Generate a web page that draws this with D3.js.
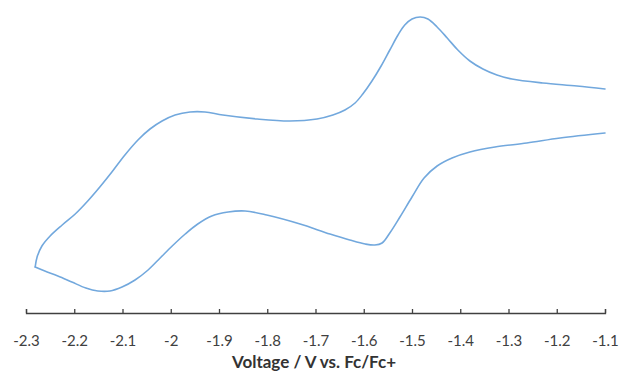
<!DOCTYPE html>
<html>
<head>
<meta charset="utf-8">
<script src="https://cdn.jsdelivr.net/npm/d3@7"></script>
<style>
  html, body { margin: 0; padding: 0; background: #fff; }
  svg { display: block; }
</style>
</head>
<body>
<svg id="chart" width="624" height="374"></svg>
<script>
// Cyclic voltammogram: potential (V vs. Fc/Fc+) and current (arbitrary units)
// Upper branch, read from -2.3 V up to -1.1 V
const upperPotential = [
  -2.281, -2.277, -2.267, -2.250, -2.225, -2.198, -2.172, -2.147, -2.122, -2.095,
  -2.068, -2.043, -2.018, -1.991, -1.960, -1.929, -1.892, -1.821, -1.753, -1.697,
  -1.664, -1.639, -1.618, -1.602, -1.583, -1.564, -1.546, -1.529, -1.515, -1.500,
  -1.483, -1.467, -1.448, -1.427, -1.405, -1.380, -1.353, -1.324, -1.293, -1.229,
  -1.158, -1.100
];
const upperCurrent = [
  4.6, 5.6, 6.7, 7.7, 8.8, 9.9, 11.2, 12.6, 14.1, 15.8,
  17.3, 18.4, 19.2, 19.8, 20.1, 20.1, 19.8, 19.4, 19.2, 19.4,
  19.8, 20.3, 21.0, 21.9, 23.2, 24.7, 26.3, 27.8, 28.8, 29.4,
  29.6, 29.4, 28.6, 27.5, 26.3, 25.2, 24.4, 23.8, 23.4, 23.0,
  22.7, 22.4
];
// Lower branch, read from -2.3 V up to -1.1 V
const lowerPotential = [
  -2.281, -2.261, -2.234, -2.205, -2.176, -2.151, -2.126, -2.101, -2.074, -2.047,
  -2.022, -1.997, -1.970, -1.944, -1.915, -1.881, -1.846, -1.801, -1.732, -1.670,
  -1.629, -1.597, -1.577, -1.562, -1.546, -1.525, -1.500, -1.475, -1.448, -1.417,
  -1.380, -1.328, -1.262, -1.193, -1.100
];
const lowerCurrent = [
  4.6, 4.2, 3.7, 3.1, 2.5, 2.2, 2.2, 2.6, 3.3, 4.3,
  5.5, 6.7, 7.9, 8.9, 9.7, 10.1, 10.2, 9.8, 8.9, 7.9,
  7.3, 6.9, 6.8, 7.0, 8.0, 9.6, 11.6, 13.5, 14.7, 15.5,
  16.1, 16.6, 17.0, 17.5, 18.0
];
const xTicks = [-2.3, -2.2, -2.1, -2.0, -1.9, -1.8, -1.7, -1.6, -1.5, -1.4, -1.3, -1.2, -1.1];
const xTickLabels = ["-2.3", "-2.2", "-2.1", "-2", "-1.9", "-1.8", "-1.7", "-1.6", "-1.5", "-1.4", "-1.3", "-1.2", "-1.1"];
const xTitle = "Voltage / V vs. Fc/Fc+";

const svg = d3.select("#chart");
const x = d3.scaleLinear().domain([-2.3, -1.1]).range([26, 605]);
const y = d3.scaleLinear().domain([0, 30]).range([313, 13]);

const line = d3.line().x(d => x(d[0])).y(d => y(d[1])).curve(d3.curveCatmullRom.alpha(0.5));
const branches = [
  upperPotential.map((v, i) => [v, upperCurrent[i]]),
  lowerPotential.map((v, i) => [v, lowerCurrent[i]])
];

svg.selectAll("path.cv")
  .data(branches)
  .join("path")
  .attr("class", "cv")
  .attr("fill", "none")
  .attr("stroke", "#72a8dd")
  .attr("stroke-width", 1.6)
  .attr("stroke-linejoin", "round")
  .attr("stroke-linecap", "round")
  .attr("d", line);

const axis = d3.axisBottom(x)
  .tickValues(xTicks)
  .tickFormat((d, i) => xTickLabels[i])
  .tickSize(-4)
  .tickSizeOuter(-4)
  .tickPadding(0);

const gx = svg.append("g").attr("transform", "translate(0,313)").call(axis);
gx.select(".domain").attr("stroke", "#404040").attr("stroke-width", 1.3);
gx.selectAll(".tick line").attr("stroke", "#404040").attr("stroke-width", 1.3);
gx.selectAll(".tick text")
  .attr("y", 33)
  .attr("dy", null)
  .attr("fill", "#404040")
  .style("font-family", "Lato, 'Open Sans', sans-serif")
  .style("font-size", "15px");

svg.append("text")
  .attr("x", 314)
  .attr("y", 368)
  .attr("text-anchor", "middle")
  .attr("fill", "#333")
  .style("font-family", "Lato, 'Open Sans', sans-serif")
  .style("font-weight", "bold")
  .style("font-size", "17px")
  .text(xTitle);
</script>
</body>
</html>
